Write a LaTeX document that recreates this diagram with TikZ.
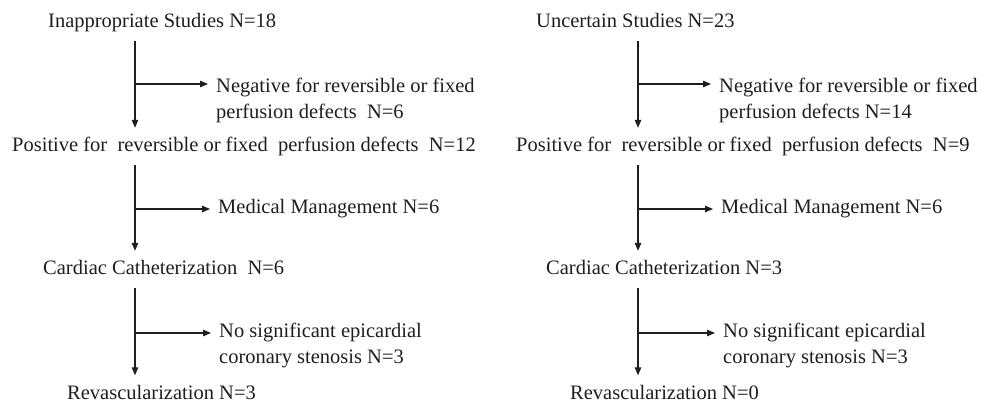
\documentclass[tikz,border=0pt]{standalone}
\usepackage{fontspec}
\setmainfont{Liberation Serif}
\usetikzlibrary{arrows.meta}
\definecolor{ink}{HTML}{1E1E1E}
\tikzset{
  lbl/.style={inner sep=0pt, anchor=base west, text=ink, text height=14pt, text depth=5pt,
    font=\fontsize{20.5}{25.5}\selectfont},
  lastlbl/.style={lbl, text depth=0pt},
  mlbl/.style={inner sep=0pt, anchor=north west, text=ink, align=left,
    font=\fontsize{20.5}{25.5}\selectfont},
  arr/.style={draw=ink, line width=1.1pt, -{Triangle[length=8pt,width=6.5pt]}},
  vline/.style={arr, shorten <=8pt, shorten >=10pt},
  hline/.style={arr, shorten >=8pt},
}
\begin{document}
\begin{tikzpicture}[x=1pt,y=-1pt]
\useasboundingbox (0,0) rectangle (982,403);
% columns
\coordinate (colL) at (135,0);
\coordinate (colR) at (638,0);
% ---------- left ----------
\node[lbl] (tL) at (48,28) {Inappropriate Studies N=18};
\node[mlbl] (nL) at (216,78) {Negative for reversible or fixed\\perfusion defects\ \ N=6};
\node[lbl] (pL) at (12,152) {Positive for\ \ reversible or fixed\ \ perfusion defects\ \ N=12};
\node[lbl] (mL) at (218,214) {Medical Management N=6};
\node[lbl] (cL) at (43,275) {Cardiac Catheterization\ \ N=6};
\node[mlbl] (sL) at (219,323) {No significant epicardial\\coronary stenosis N=3};
\node[lastlbl] (rL) at (67,399.5) {Revascularization N=3};
\coordinate (bL1) at (135,84);
\coordinate (bL2) at (135,209);
\coordinate (bL3) at (135,333);
\draw[vline] (tL.south -| colL) -- (pL.north -| colL);
\draw[vline] (pL.south -| colL) -- (cL.north -| colL);
\draw[vline] (cL.south -| colL) -- (rL.north -| colL);
\draw[hline] (bL1) -- (bL1 -| nL.west);
\draw[hline] (bL2) -- (bL2 -| mL.west);
\draw[hline] (bL3) -- (bL3 -| sL.west);
% ---------- right ----------
\node[lbl] (tR) at (536,28) {Uncertain Studies N=23};
\node[mlbl] (nR) at (719,78) {Negative for reversible or fixed\\perfusion defects N=14};
\node[lbl] (pR) at (516,152) {Positive for\ \ reversible or fixed\ \ perfusion defects\ \ N=9};
\node[lbl] (mR) at (721,214) {Medical Management N=6};
\node[lbl] (cR) at (546,275) {Cardiac Catheterization N=3};
\node[mlbl] (sR) at (723,323) {No significant epicardial\\coronary stenosis N=3};
\node[lastlbl] (rR) at (570,399.5) {Revascularization N=0};
\coordinate (bR1) at (638,84);
\coordinate (bR2) at (638,209);
\coordinate (bR3) at (638,333);
\draw[vline] (tR.south -| colR) -- (pR.north -| colR);
\draw[vline] (pR.south -| colR) -- (cR.north -| colR);
\draw[vline] (cR.south -| colR) -- (rR.north -| colR);
\draw[hline] (bR1) -- (bR1 -| nR.west);
\draw[hline] (bR2) -- (bR2 -| mR.west);
\draw[hline] (bR3) -- (bR3 -| sR.west);
\end{tikzpicture}
\end{document}
